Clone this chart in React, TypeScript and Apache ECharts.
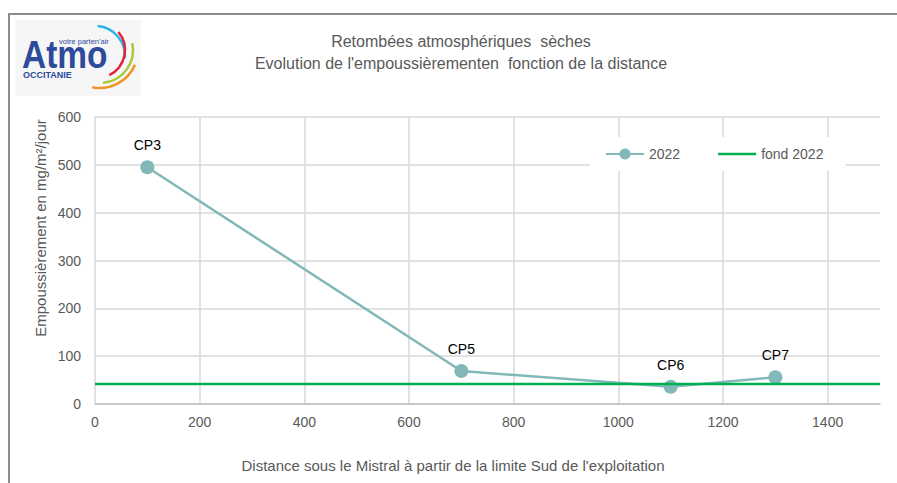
import React, { useEffect, useRef } from "react";
import * as echarts from "echarts";

const categories = ["CP3", "CP5", "CP6", "CP7"];
const distances = [100, 700, 1100, 1300];
const values2022 = [495, 69, 36, 56];
const fond2022 = 42;
const fondRange = [0, 1500];
const titleLines = ["Retombées atmosphériques  sèches", "Evolution de l'empoussièrementen  fonction de la distance"];
const yAxisTitle = "Empoussièrement en mg/m²/jour";
const xAxisTitle = "Distance sous le Mistral à partir de la limite Sud de l'exploitation";

const NARROW = "'Liberation Sans Narrow', 'Arial Narrow', 'Liberation Sans', sans-serif";
const SANS = "'Liberation Sans', Arial, sans-serif";

export default function App() {
  const ref = useRef<HTMLDivElement>(null);
  useEffect(() => {
    document.body.style.margin = "0";
    const chart = echarts.init(ref.current!, null, { renderer: "svg" });
    const deg = Math.PI / 180;
    const lineData = distances.map((d, i) => ({ name: categories[i], value: [d, values2022[i]] }));
    chart.setOption({
      animation: false,
      backgroundColor: "#fff",
      grid: { left: 95, right: 17, top: 117, bottom: 79 },
      legend: {
        left: 590,
        top: 137,
        backgroundColor: "#fff",
        padding: [10, 22, 10, 15],
        itemWidth: 38,
        itemHeight: 14,
        itemGap: 38,
        textStyle: { color: "#595959", fontSize: 14, fontFamily: NARROW },
        data: [
          { name: "2022" },
          { name: "fond 2022", icon: "path://M0,0H38V2.5H0Z" },
        ],
      },
      xAxis: {
        type: "value",
        min: 0,
        max: 1500,
        interval: 200,
        axisLine: { show: true, lineStyle: { color: "#bfbfbf", width: 1.5 } },
        axisTick: { show: false },
        axisLabel: {
          color: "#595959",
          fontSize: 14,
          fontFamily: NARROW,
          margin: 11,
          formatter: (v: number) => (v === 1500 ? "" : String(v)),
        },
        splitLine: { show: true, showMaxLine: false, lineStyle: { color: "#d9d9d9", width: 1.5 } },
      },
      yAxis: {
        type: "value",
        min: 0,
        max: 600,
        interval: 100,
        axisLine: { show: false },
        axisTick: { show: false },
        axisLabel: { color: "#595959", fontSize: 14, fontFamily: NARROW, margin: 14 },
        splitLine: { show: true, lineStyle: { color: "#d9d9d9", width: 1.5 } },
      },
      series: [
        {
          name: "2022",
          type: "line",
          data: lineData,
          symbol: "circle",
          symbolSize: 14,
          itemStyle: { color: "#82b8b8" },
          lineStyle: { color: "#82b8b8", width: 2.5 },
          label: {
            show: true,
            position: "top",
            distance: 8,
            formatter: "{b}",
            color: "#000",
            fontSize: 14,
            fontFamily: SANS,
          },
          z: 3,
        },
        {
          name: "fond 2022",
          type: "line",
          data: fondRange.map((x) => [x, fond2022]),
          symbol: "none",
          showSymbol: false,
          itemStyle: { color: "#00b050" },
          lineStyle: { color: "#00b050", width: 2.5 },
          z: 4,
        },
      ],
      graphic: [
        {
          type: "rect",
          shape: { x: 9, y: 14, width: 900, height: 480 },
          style: { fill: "none", stroke: "#8c8c8c", lineWidth: 2 },
          z: 100,
        },
        {
          type: "rect",
          shape: { x: 15, y: 20, width: 126, height: 76 },
          style: { fill: "#f6f6f6" },
        },
        {
          type: "text",
          x: 22,
          y: 74,
          scaleX: 0.88,
          style: {
            text: "Atmo",
            fill: "#2c4b9b",
            font: "bold 38px 'Liberation Sans', Arial, sans-serif",
            textVerticalAlign: "bottom",
          },
        },
        {
          type: "text",
          x: 59,
          y: 37,
          style: { text: "votre parten'air", fill: "#2c4b9b", font: "7.5px 'Liberation Sans', Arial, sans-serif" },
        },
        {
          type: "text",
          x: 23,
          y: 70,
          style: { text: "OCCITANIE", fill: "#2c4b9b", font: "bold 9px 'Liberation Sans', Arial, sans-serif" },
        },
        {
          type: "arc",
          shape: { cx: 95, cy: 56, r: 30, startAngle: -85 * deg, endAngle: 4 * deg },
          style: { stroke: "#29b6e6", lineWidth: 2.5, fill: "none" },
        },
        {
          type: "arc",
          shape: { cx: 97, cy: 50, r: 28, startAngle: -40 * deg, endAngle: 64 * deg },
          style: { stroke: "#e2233a", lineWidth: 2.5, fill: "none" },
        },
        {
          type: "arc",
          shape: { cx: 100, cy: 50, r: 33, startAngle: -12 * deg, endAngle: 85 * deg },
          style: { stroke: "#a7c93a", lineWidth: 2.5, fill: "none" },
        },
        {
          type: "arc",
          shape: { cx: 100, cy: 50, r: 38, startAngle: 23 * deg, endAngle: 102 * deg },
          style: { stroke: "#f39325", lineWidth: 2.5, fill: "none" },
        },
        {
          type: "text",
          x: 461,
          y: 41,
          style: {
            text: titleLines[0],
            fill: "#595959",
            font: "16px 'Liberation Sans', Arial, sans-serif",
            textAlign: "center",
            textVerticalAlign: "middle",
          },
        },
        {
          type: "text",
          x: 461,
          y: 63,
          style: {
            text: titleLines[1],
            fill: "#595959",
            font: "16px 'Liberation Sans', Arial, sans-serif",
            textAlign: "center",
            textVerticalAlign: "middle",
          },
        },
        {
          type: "text",
          x: 40,
          y: 228,
          rotation: Math.PI / 2,
          style: {
            text: yAxisTitle,
            fill: "#595959",
            font: "15px " + NARROW,
            textAlign: "center",
            textVerticalAlign: "middle",
          },
        },
        {
          type: "text",
          x: 453,
          y: 465,
          style: {
            text: xAxisTitle,
            fill: "#595959",
            font: "15px " + NARROW,
            textAlign: "center",
            textVerticalAlign: "middle",
          },
        },
      ],
    });
    return () => chart.dispose();
  }, []);
  return <div ref={ref} style={{ width: 897, height: 483 }} />;
}
